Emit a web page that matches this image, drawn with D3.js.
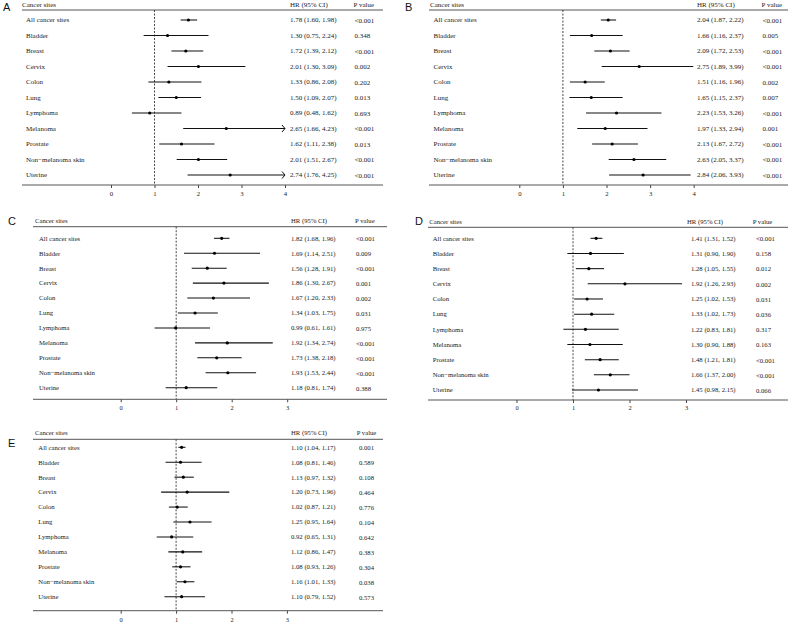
<!DOCTYPE html>
<html><head><meta charset="utf-8">
<script src="https://cdn.jsdelivr.net/npm/d3@7"></script>
<style>html,body{margin:0;padding:0;background:#fff;}svg{display:block;}</style>
</head><body>
<svg id="c" width="792" height="624"></svg>
<script>
const categories = ["All cancer sites","Bladder","Breast","Cervix","Colon","Lung","Lymphoma","Melanoma","Prostate","Non\u2212melanoma skin","Uterine"];

const hrA = [1.78,1.30,1.72,2.01,1.33,1.50,0.89,2.65,1.62,2.01,2.74];
const loA = [1.60,0.75,1.39,1.30,0.86,1.09,0.48,1.66,1.11,1.51,1.76];
const hiA = [1.98,2.24,2.12,3.09,2.08,2.07,1.62,4.23,2.38,2.67,4.25];
const pA  = ["<0.001","0.348","<0.001","0.002","0.202","0.013","0.693","<0.001","0.013","<0.001","<0.001"];

const hrB = [2.04,1.66,2.09,2.75,1.51,1.65,2.23,1.97,2.13,2.63,2.84];
const loB = [1.87,1.16,1.72,1.89,1.16,1.15,1.53,1.33,1.67,2.05,2.06];
const hiB = [2.22,2.37,2.53,3.99,1.96,2.37,3.26,2.94,2.72,3.37,3.93];
const pB  = ["<0.001","0.005","<0.001","<0.001","0.002","0.007","<0.001","0.001","<0.001","<0.001","<0.001"];

const hrC = [1.82,1.69,1.56,1.86,1.67,1.34,0.99,1.92,1.73,1.93,1.18];
const loC = [1.68,1.14,1.28,1.30,1.20,1.03,0.61,1.34,1.38,1.53,0.81];
const hiC = [1.96,2.51,1.91,2.67,2.33,1.75,1.61,2.74,2.18,2.44,1.74];
const pC  = ["<0.001","0.009","<0.001","0.001","0.002","0.031","0.975","<0.001","<0.001","<0.001","0.388"];

const hrD = [1.41,1.31,1.28,1.92,1.25,1.33,1.22,1.30,1.48,1.66,1.45];
const loD = [1.31,0.90,1.05,1.26,1.02,1.02,0.83,0.90,1.21,1.37,0.98];
const hiD = [1.52,1.90,1.55,2.93,1.53,1.73,1.81,1.88,1.81,2.00,2.15];
const pD  = ["<0.001","0.158","0.012","0.002","0.031","0.036","0.317","0.163","<0.001","<0.001","0.066"];

const hrE = [1.10,1.08,1.13,1.20,1.02,1.25,0.92,1.12,1.08,1.16,1.10];
const loE = [1.04,0.81,0.97,0.73,0.87,0.95,0.65,0.86,0.93,1.01,0.79];
const hiE = [1.17,1.46,1.32,1.96,1.21,1.64,1.31,1.47,1.26,1.33,1.52];
const pE  = ["0.001","0.589","0.108","0.464","0.776","0.104","0.642","0.383","0.304","0.038","0.573"];

const ticksAB = [0,1,2,3,4];
const ticksCDE = [0,1,2,3];
const headers = ["Cancer sites","HR (95% CI)","P value"];

const panels = [
  {letter:"A", hr:hrA, lo:loA, hi:hiA, p:pA, ticks:ticksAB,
   L:{lx:3, ly:7, hy:5, hl:10, r0:20, step:15.5, by:185, ty:194, x1:22, x2:383, hlx:22, rlx:26, hrx:290, hrhx:290, px:354.5, phx:353.5, z:111, u:43.5, fs:7}},
  {letter:"B", hr:hrB, lo:loB, hi:hiB, p:pB, ticks:ticksAB,
   L:{lx:405, ly:7, hy:5, hl:10, r0:20, step:15.5, by:185, ty:194, x1:429, x2:788, hlx:430, rlx:433.5, hrx:697, hrhx:697, px:762.5, phx:761.5, z:519.3, u:43.6, fs:7}},
  {letter:"C", hr:hrC, lo:loC, hi:hiC, p:pC, ticks:ticksCDE,
   L:{lx:8, ly:221, hy:221, hl:226.7, r0:238.3, step:14.94, by:399.3, ty:407.5, x1:33, x2:387, hlx:35, rlx:39, hrx:291, hrhx:291, px:356, phx:355, z:120.7, u:55.5, fs:6.7}},
  {letter:"D", hr:hrD, lo:loD, hi:hiD, p:pD, ticks:ticksCDE,
   L:{lx:415, ly:221, hy:221.5, hl:227.3, r0:238.3, step:15.17, by:400, ty:408, x1:428, x2:788, hlx:429.3, rlx:432.7, hrx:691, hrhx:687, px:756, phx:752.7, z:516.5, u:56.5, fs:6.7}},
  {letter:"E", hr:hrE, lo:loE, hi:hiE, p:pE, ticks:ticksCDE,
   L:{lx:8, ly:443, hy:433, hl:439.3, r0:447.3, step:14.94, by:610.7, ty:620, x1:33, x2:383, hlx:35, rlx:38.3, hrx:291, hrhx:291, px:359, phx:356.7, z:120.7, u:55.4, fs:6.7}}
];

const svg = d3.select("#c");
const serif = "'Liberation Serif','Times New Roman',serif";
const f2 = d3.format(".2f");
const textCol = "#222";

panels.forEach(pn => {
  const L = pn.L;
  const g = svg.append("g");
  const tmax = d3.max(pn.ticks);
  const x = d3.scaleLinear().domain([0, tmax]).range([L.z, L.z + L.u * tmax]);
  const y = d3.scaleLinear().domain([0, categories.length - 1]).range([L.r0, L.r0 + L.step * (categories.length - 1)]);

  g.append("text").attr("x", L.lx).attr("y", L.ly).attr("dy", "0.36em")
    .attr("font-family", "'Liberation Sans',Arial,sans-serif").attr("font-size", 11)
    .attr("fill", "#111").text(pn.letter);

  const hx = [L.hlx, L.hrhx, L.phx];
  headers.forEach((h, i) => {
    g.append("text").attr("x", hx[i]).attr("y", L.hy).attr("dy", "0.35em")
      .attr("font-family", serif).attr("font-size", L.fs).attr("fill", textCol).text(h);
  });
  g.append("line").attr("x1", L.x1).attr("x2", L.x2).attr("y1", L.hl).attr("y2", L.hl)
    .attr("stroke", "#555").attr("stroke-width", 1);

  g.append("line").attr("x1", x(1)).attr("x2", x(1)).attr("y1", L.hl).attr("y2", L.by)
    .attr("stroke", "#333").attr("stroke-width", 0.9).attr("stroke-dasharray", "2,1.5");

  const axis = d3.axisBottom(x).tickValues(pn.ticks).tickSize(3).tickPadding(2).tickFormat(d3.format("d"));
  const ag = g.append("g").attr("transform", `translate(0,${L.by})`).attr("color", "#333").call(axis);
  ag.select(".domain").remove();
  ag.selectAll(".tick line").attr("stroke", "#444");
  ag.selectAll(".tick text").attr("font-family", serif).attr("font-size", L.fs - 0.3).attr("fill", textCol)
    .attr("y", L.ty - L.by).attr("dy", "0.35em");
  g.append("line").attr("x1", L.x1).attr("x2", L.x2).attr("y1", L.by).attr("y2", L.by)
    .attr("stroke", "#555").attr("stroke-width", 1);

  categories.forEach((c, i) => {
    const yy = y(i);
    g.append("text").attr("x", L.rlx).attr("y", yy).attr("dy", "0.35em")
      .attr("font-family", serif).attr("font-size", L.fs).attr("fill", textCol).text(c);
    const lo = pn.lo[i], hi = pn.hi[i], hr = pn.hr[i];
    const clipped = hi > tmax;
    const xhi = x(Math.min(hi, tmax));
    g.append("line").attr("x1", x(lo)).attr("x2", xhi).attr("y1", yy).attr("y2", yy)
      .attr("stroke", "#111").attr("stroke-width", 1.05);
    if (clipped) {
      g.append("path").attr("d", `M${xhi - 3},${yy - 3.5}L${xhi},${yy}L${xhi - 3},${yy + 3.5}`)
        .attr("fill", "none").attr("stroke", "#111").attr("stroke-width", 1);
    }
    g.append("circle").attr("cx", x(hr)).attr("cy", yy).attr("r", 1.6).attr("fill", "#000");
    g.append("text").attr("x", L.hrx).attr("y", yy).attr("dy", "0.35em")
      .attr("font-family", serif).attr("font-size", L.fs).attr("fill", textCol)
      .text(`${f2(hr)} (${f2(lo)}, ${f2(hi)})`);
    g.append("text").attr("x", L.px).attr("y", yy + 0.5).attr("dy", "0.35em")
      .attr("font-family", serif).attr("font-size", L.fs).attr("fill", textCol).text(pn.p[i]);
  });
});
</script>
</body></html>
